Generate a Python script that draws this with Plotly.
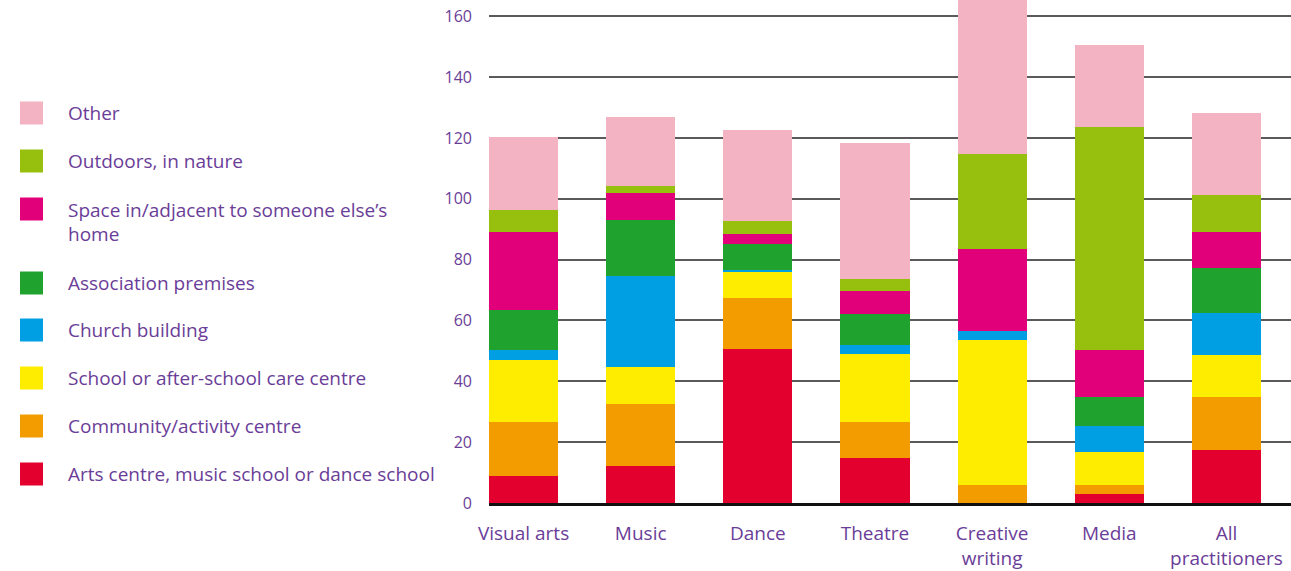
import plotly.graph_objects as go

# Workplace locations by artistic field (stacked, bottom to top)
categories = ["Visual arts", "Music", "Dance", "Theatre",
              "Creative<br>writing", "Media", "All<br>practitioners"]

arts_centre = [8.8, 12.1, 50.5, 14.7, 0.0, 2.9, 17.3]
community_centre = [17.7, 20.3, 16.8, 11.8, 5.8, 2.9, 17.4]
school = [20.4, 12.2, 8.5, 22.4, 47.7, 10.9, 13.9]
church = [3.3, 29.9, 0.7, 2.9, 2.9, 8.5, 13.8]
association = [13.4, 18.4, 8.5, 10.2, 0.0, 9.5, 14.9]
someone_home = [25.5, 8.9, 3.3, 7.6, 27.0, 15.5, 11.7]
outdoors = [7.1, 2.3, 4.3, 3.9, 31.2, 73.3, 12.2]
other = [24.0, 22.7, 29.9, 44.7, 56.0, 27.0, 26.9]

series_names = [
    "Arts centre, music school or dance school",
    "Community/activity centre",
    "School or after-school care centre",
    "Church building",
    "Association premises",
    "Space in/adjacent to someone else’s<br>home",
    "Outdoors, in nature",
    "Other",
]
series_values = [arts_centre, community_centre, school, church,
                 association, someone_home, outdoors, other]
series_colors = ["#e3002f", "#f39c00", "#ffed00", "#009fe3",
                 "#1fa22e", "#e2007a", "#97c00e", "#f4b3c2"]

y_ticks = [0, 20, 40, 60, 80, 100, 120, 140, 160]

W, H = 1291, 571
L, T, B = 489, 0, 68
plot_w, plot_h = W - L, H - T - B
TEXT = "#6a3d98"
FONT = "Open Sans"

fig = go.Figure()
for name, vals, col in zip(series_names, series_values, series_colors):
    fig.add_trace(go.Bar(
        x=categories, y=vals, name=name,
        marker=dict(color=col, line=dict(width=0)),
        width=0.59, showlegend=False,
    ))


def px_x(px):
    return (px - L) / plot_w


def px_y(py):
    return (H - B - py) / plot_h


# Hand-built legend: large swatches with labels, top to bottom
legend_rows = [
    ("Other", "#f4b3c2", 113, [113]),
    ("Outdoors, in nature", "#97c00e", 161, [161]),
    ("Space in/adjacent to someone else’s", "#e2007a", 209, [210]),
    ("home", None, None, [234]),
    ("Association premises", "#1fa22e", 283, [283]),
    ("Church building", "#009fe3", 330, [330]),
    ("School or after-school care centre", "#ffed00", 378, [378]),
    ("Community/activity centre", "#f39c00", 426, [426]),
    ("Arts centre, music school or dance school", "#e3002f", 474, [474]),
]
shapes = []
annotations = []
for label, col, sy, ty in legend_rows:
    if col is not None:
        shapes.append(dict(
            type="rect", xref="paper", yref="paper",
            x0=px_x(20), x1=px_x(43), y0=px_y(sy + 11.5), y1=px_y(sy - 11.5),
            fillcolor=col, line=dict(width=0), layer="above",
        ))
    for yy in ty:
        annotations.append(dict(
            text=label, xref="paper", yref="paper",
            x=px_x(66), y=px_y(yy), xanchor="left", yanchor="middle",
            showarrow=False, font=dict(family=FONT, size=19, color=TEXT),
        ))

fig.update_layout(
    width=W, height=H,
    margin=dict(l=L, r=0, t=T, b=B, pad=0),
    paper_bgcolor="white", plot_bgcolor="white",
    barmode="stack", bargap=0.41,
    shapes=shapes, annotations=annotations,
    font=dict(family=FONT, size=19, color=TEXT),
    xaxis=dict(
        type="category", range=[-0.295, 6.551],
        showline=True, linecolor="#111111", linewidth=3,
        showgrid=False, ticks="", ticklabelstandoff=11,
        tickfont=dict(family=FONT, size=19, color=TEXT),
        automargin=False, fixedrange=True,
    ),
    yaxis=dict(
        range=[0, plot_h / 3.042],
        tickvals=y_ticks,
        showgrid=True, gridcolor="#5a5a5a", gridwidth=1.5,
        zeroline=False, showline=False, ticks="",
        ticklabelstandoff=16,
        tickfont=dict(family=FONT, size=16, color=TEXT),
        automargin=False, fixedrange=True,
    ),
)

fig.write_html("out.html")
